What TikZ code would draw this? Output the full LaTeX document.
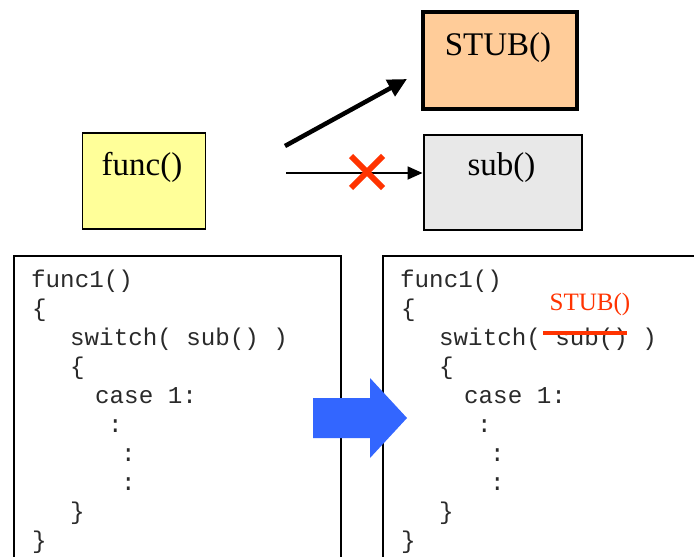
\documentclass[tikz,border=0pt]{standalone}
\usepackage{fontspec}
\setmainfont{Liberation Serif}
\newfontfamily\codefont{Liberation Mono}
\usetikzlibrary{arrows.meta}
\definecolor{funcyellow}{HTML}{FFFF99}
\definecolor{stuborange}{HTML}{FFCC99}
\definecolor{subgrey}{HTML}{E8E8E8}
\definecolor{xred}{HTML}{FF3300}
\definecolor{bigblue}{HTML}{3366FF}
\definecolor{codegrey}{HTML}{2A2A2A}
\begin{document}
\begin{tikzpicture}[x=1pt,y=-1pt,
  box/.style={draw=black, inner sep=0pt, anchor=north west},
  title/.style={font=\fontsize{33}{33}\selectfont, inner sep=0pt, anchor=base},
  code/.style={font=\codefont\fontsize{24.2}{24}\selectfont, text=codegrey, inner sep=0pt, anchor=base west},
  codebox/.style={box, line width=2pt, fill=white, minimum width=327pt, minimum height=330pt},
]
\clip (0,0) rectangle (694,557);
\fill[white] (0,0) rectangle (694,557);

% top boxes
\node[box, fill=funcyellow, line width=1.5pt, minimum width=123pt, minimum height=96pt] (func) at (81.5,132) {};
\node[box, fill=stuborange, line width=4.5pt, minimum width=154pt, minimum height=97pt] (stub) at (420.5,9.5) {};
\node[box, fill=subgrey, line width=2pt, minimum width=158pt, minimum height=95pt] (sub) at (422.5,133.5) {};
\node[title] (functext) at (142,175) {func()};
\node[title] (stubtext) at (498,55) {STUB()};
\node[title] (subtext) at (501.5,175) {sub()};

% connectors
\coordinate (a1) at (285,146);
\coordinate (b1) at (407,79);
\draw[line width=4.5pt, -{Triangle[length=19pt,width=18pt]}] (a1) -- (b1);
\coordinate (a2) at (286,173);
\draw[line width=1.8pt, -{Triangle[length=15pt,width=13pt]}] (a2) -- (a2 -| sub.west);
\coordinate (xmark) at (367,172);
\draw[xred, line width=6pt] (xmark) +(-16,-16) -- +(16,16) +(-16,16) -- +(16,-16);

% code boxes
\node[codebox] (leftcode) at (13,255) {};
\node[codebox, minimum width=340pt] (rightcode) at (382,255) {};
\foreach \dx/\nm in {0/L, 369/R}{
  \node[code] (\nm l1) at (31+\dx,287) {func1()};
  \node[code] (\nm l2) at (32+\dx,316) {\{};
  \node[code] (\nm l3) at (70+\dx,345) {switch( sub() )};
  \node[code] (\nm l4) at (70+\dx,374) {\{};
  \node[code] (\nm l5) at (95+\dx,403) {case 1:};
  \node[code] (\nm l6) at (108+\dx,432) {:};
  \node[code] (\nm l7) at (121+\dx,461) {:};
  \node[code] (\nm l8) at (121+\dx,490) {:};
  \node[code] (\nm l9) at (70+\dx,519) {\}};
  \node[code] (\nm l10) at (32+\dx,548) {\}};
}
% stub replacement
\coordinate (s1) at (543,333);
\coordinate (s2) at (627,333);
\draw[xred, line width=3.5pt] (s1) -- (s2);
\node[font=\fontsize{25}{25}\selectfont, text=xred, inner sep=0pt, anchor=base] (redstub) at (590,310) {STUB()};

% big blue arrow
\fill[bigblue] (313,398) -- (370,398) -- (370,378) -- (407,418) -- (370,458) -- (370,438) -- (313,438) -- cycle;
\end{tikzpicture}
\end{document}
